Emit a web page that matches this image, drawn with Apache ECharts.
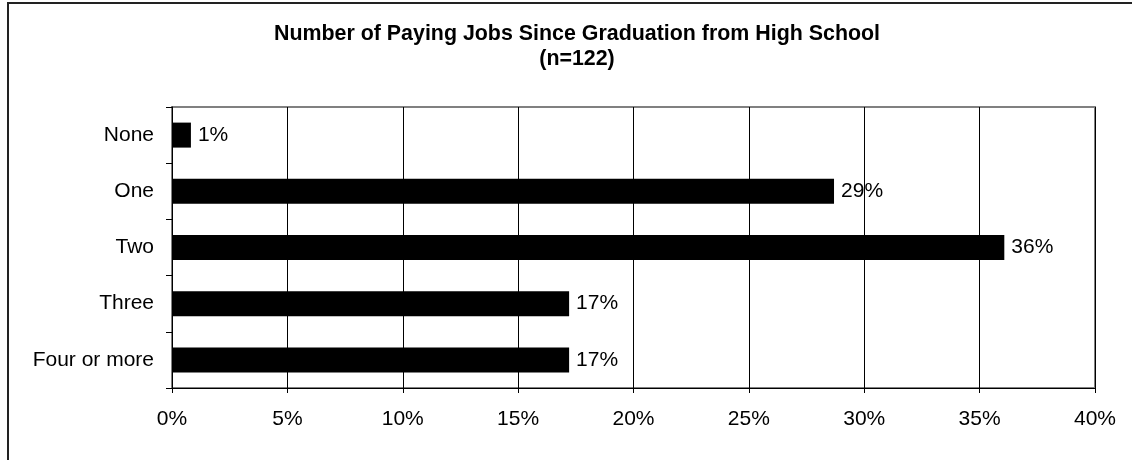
<!DOCTYPE html>
<html>
<head>
<meta charset="utf-8">
<script src="https://cdn.jsdelivr.net/npm/echarts@6/dist/echarts.min.js"></script>
<style>
    html, body { margin: 0; padding: 0; background: #fff; }
    #chart { width: 1132px; height: 460px; }
</style>
</head>
<body>
<div id="chart"></div>
<script type="text/javascript">
    // 数据
    var jobCategories = ['None', 'One', 'Two', 'Three', 'Four or more'];
    var jobPercents = [0.82, 28.69, 36.07, 17.21, 17.21];
    var axisMin = 0;
    var axisMax = 40;
    var axisStep = 5;

    var fontName = '"Liberation Sans", Arial, sans-serif';

    var myChart = echarts.init(document.getElementById('chart'));
    var option = {
        animation: false,
        backgroundColor: '#fff',
        textStyle: { fontFamily: fontName },
        title: {
            text: 'Number of Paying Jobs Since Graduation from High School\n(n=122)',
            left: 572,
            top: 16,
            textAlign: 'center',
            textStyle: {
                fontFamily: fontName,
                fontSize: 21.4,
                fontWeight: 'bold',
                color: '#000',
                lineHeight: 25.5
            }
        },
        // 外框
        graphic: [{
            type: 'rect',
            shape: { x: 8, y: 3, width: 1200, height: 600 },
            style: { fill: null, stroke: '#222', lineWidth: 2 },
            silent: true
        }],
        grid: {
            left: 172,
            right: 37,
            top: 107,
            bottom: 72,
            show: true,
            borderColor: '#808080',
            borderWidth: 2
        },
        xAxis: {
            type: 'value',
            min: axisMin,
            max: axisMax,
            interval: axisStep,
            axisLine: { show: true, lineStyle: { color: '#000', width: 1 } },
            axisTick: { show: true, length: 5, lineStyle: { color: '#000' } },
            axisLabel: {
                margin: 21,
                fontSize: 21,
                color: '#000',
                fontFamily: fontName,
                formatter: '{value}%'
            },
            splitLine: { show: true, lineStyle: { color: '#000', width: 1 } }
        },
        yAxis: {
            type: 'category',
            inverse: true,
            data: jobCategories,
            axisLine: { show: true, lineStyle: { color: '#000', width: 1 } },
            axisTick: { show: true, length: 6, lineStyle: { color: '#000' } },
            axisLabel: {
                margin: 18,
                fontSize: 21,
                color: '#000',
                fontFamily: fontName
            },
            splitLine: { show: false }
        },
        series: [{
            type: 'bar',
            data: jobPercents,
            barWidth: 25,
            itemStyle: { color: '#000' },
            label: {
                show: true,
                position: 'right',
                distance: 7,
                fontSize: 21,
                color: '#000',
                fontFamily: fontName,
                formatter: function (p) { return Math.round(p.value) + '%'; }
            }
        }]
    };
    myChart.setOption(option);
</script>
</body>
</html>
